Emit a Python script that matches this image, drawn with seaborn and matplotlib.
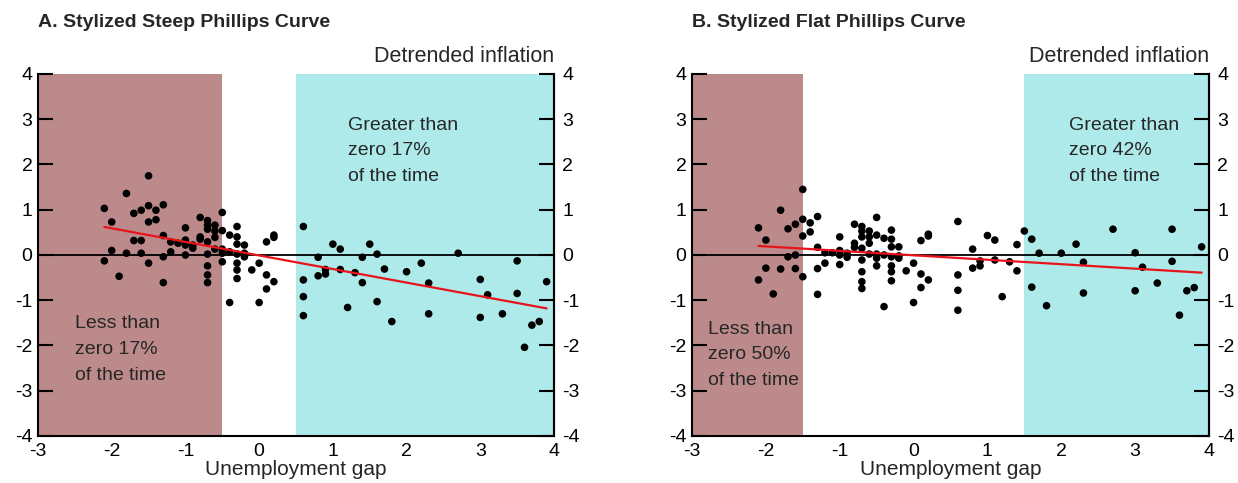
import numpy as np
import pandas as pd
import matplotlib
matplotlib.use("Agg")
import matplotlib.pyplot as plt
import seaborn as sns

# ---- data ----
unemp_gap = [
    -2.1, -2.1, -2.0, -2.0, -1.9, -1.8, -1.8, -1.7, -1.7, -1.6, -1.6, -1.6,
    -1.5, -1.5, -1.5, -1.5, -1.4, -1.4, -1.3, -1.3, -1.3, -1.3, -1.2, -1.2,
    -1.1, -1.0, -1.0, -1.0, -1.0, -0.9, -0.9, -0.8, -0.8, -0.8,
    -0.7, -0.7, -0.7, -0.7, -0.7, -0.7, -0.7, -0.7,
    -0.6, -0.6, -0.6, -0.6, -0.5, -0.5, -0.5, -0.5, -0.5,
    -0.4, -0.4, -0.4, -0.3, -0.3, -0.3, -0.3, -0.3, -0.3, -0.3,
    -0.2, -0.2, -0.2, -0.1, 0.0, 0.0, 0.1, 0.1, 0.1, 0.2, 0.2, 0.2,
    0.6, 0.6, 0.6, 0.6, 0.8, 0.8, 0.9, 0.9, 1.0, 1.1, 1.1, 1.2, 1.3,
    1.4, 1.4, 1.5, 1.6, 1.6, 1.7, 1.8, 2.0, 2.2, 2.3, 2.3, 2.7,
    3.0, 3.0, 3.1, 3.3, 3.5, 3.5, 3.6, 3.7, 3.8, 3.9,
]
steep_infl = [
    1.03, -0.13, 0.73, 0.10, -0.47, 1.36, 0.04, 0.92, 0.32, 0.99, 0.32, 0.04,
    1.75, 1.09, 0.73, -0.18, 0.99, 0.78, 1.11, 0.43, -0.04, -0.61, 0.29, 0.07,
    0.26, 0.60, 0.33, 0.22, 0.00, 0.22, 0.15, 0.83, 0.40, 0.35,
    0.76, 0.66, 0.57, 0.29, 0.02, -0.24, -0.44, -0.61,
    0.66, 0.53, 0.39, 0.13, 0.94, 0.54, 0.13, 0.04, -0.15,
    0.44, 0.07, -1.05, 0.63, 0.40, 0.24, 0.02, -0.18, -0.33, -0.52,
    0.22, 0.04, -0.04, -0.33, -0.18, -1.05, 0.29, -0.44, -0.75, 0.44, 0.39, -0.59,
    0.63, -0.55, -0.92, -1.34, -0.05, -0.46, -0.32, -0.42, 0.24, 0.13, -0.32, -1.16, -0.39,
    -0.05, -0.61, 0.24, 0.02, -1.03, -0.31, -1.47, -0.37, -0.18, -0.62, -1.30, 0.04,
    -0.54, -1.38, -0.88, -1.30, -0.13, -0.85, -2.04, -1.55, -1.47, -0.59,
]
flat_infl = [
    0.60, -0.55, 0.33, -0.29, -0.86, 0.99, -0.31, 0.58, -0.04, 0.68, 0.00, -0.30,
    1.45, 0.79, 0.42, -0.48, 0.71, 0.51, 0.85, 0.17, -0.30, -0.87, 0.05, -0.18,
    0.05, 0.40, 0.10, 0.00, -0.21, 0.04, -0.05, 0.68, 0.26, 0.17,
    0.63, 0.53, 0.40, 0.15, -0.11, -0.37, -0.59, -0.74,
    0.53, 0.40, 0.26, 0.02, 0.83, 0.44, 0.02, -0.07, -0.24,
    0.37, 0.00, -1.14, 0.55, 0.35, 0.18, -0.04, -0.24, -0.37, -0.57,
    0.18, -0.02, -0.07, -0.35, -0.18, -1.05, 0.32, -0.42, -0.72, 0.46, 0.42, -0.55,
    0.74, -0.44, -0.78, -1.22, 0.13, -0.29, -0.13, -0.24, 0.43, 0.33, -0.11, -0.92, -0.15,
    0.23, -0.35, 0.53, 0.35, -0.71, 0.04, -1.12, 0.04, 0.24, -0.16, -0.84, 0.57,
    0.05, -0.79, -0.27, -0.62, 0.57, -0.14, -1.33, -0.79, -0.72, 0.18,
]
# fitted line end points
fit_x = [-2.1, 3.9]
steep_fit = [0.62, -1.18]
flat_fit = [0.20, -0.39]

# shaded regions (x ranges)
steep_low = (-3.0, -0.5)
steep_high = (0.5, 4.0)
flat_low = (-3.0, -1.5)
flat_high = (1.5, 4.0)

titles = ["A. Stylized Steep Phillips Curve", "B. Stylized Flat Phillips Curve"]
high_text = ["Greater than\nzero 17%\nof the time", "Greater than\nzero 42%\nof the time"]
low_text = ["Less than\nzero 17%\nof the time", "Less than\nzero 50%\nof the time"]
xticks = [-3, -2, -1, 0, 1, 2, 3, 4]
yticks = [-4, -3, -2, -1, 0, 1, 2, 3, 4]

# ---- style ----
sns.set_theme(style="white")
plt.rcParams['font.family'] = ['Liberation Sans', 'DejaVu Sans']

BROWN = "#BC8A8A"
CYAN = "#AEEAEA"
RED = "#E8141C"
FS = 14

fig = plt.figure(figsize=(12.38, 4.83), dpi=100)
axes = [fig.add_axes([38/1238, 1-436/483, (554-38)/1238, (436-74)/483]),
        fig.add_axes([692/1238, 1-436/483, (1209-692)/1238, (436-74)/483])]

panels = [
    (steep_infl, steep_fit, steep_low, steep_high, (1.2, 3.06), (-2.5, -1.33)),
    (flat_infl, flat_fit, flat_low, flat_high, (2.1, 3.06), (-2.78, -1.45)),
]

for i, (ax, (infl, fit, low, high, hpos, lpos)) in enumerate(zip(axes, panels)):
    df = pd.DataFrame({"gap": unemp_gap, "infl": infl})
    ax.axvspan(*low, color=BROWN, lw=0, zorder=0)
    ax.axvspan(*high, color=CYAN, lw=0, zorder=0)
    ax.axhline(0, color="black", lw=1.3, zorder=1)
    sns.scatterplot(data=df, x="gap", y="infl", ax=ax, color="black", s=30,
                    edgecolor="none", zorder=3, legend=False)
    sns.lineplot(x=fit_x, y=fit, ax=ax, color=RED, lw=1.6, zorder=4)
    ax.set_xlim(-3, 4)
    ax.set_ylim(-4, 4)
    ax.set_xticks(xticks)
    ax.set_yticks(yticks)
    ax.set_xlabel("Unemployment gap", fontsize=15, labelpad=0)
    ax.set_ylabel("")
    ax.tick_params(axis="both", direction="in", length=11, width=1.5,
                   labelsize=FS, colors="black", pad=4)
    ax.tick_params(axis="x", pad=5)
    for side in ["left", "bottom", "right"]:
        ax.spines[side].set_visible(True)
        ax.spines[side].set_color("black")
        ax.spines[side].set_linewidth(1.5)
    ax.spines["top"].set_visible(False)
    ax.set_yticklabels([str(t) for t in yticks])
    ax.set_xticklabels([str(t) for t in xticks])

    ax2 = ax.twinx()
    ax2.set_ylim(-4, 4)
    ax2.set_yticks(yticks)
    ax2.set_yticklabels([str(t) for t in yticks])
    ax2.tick_params(axis="y", direction="in", length=11, width=1.5,
                    labelsize=FS, colors="black", pad=6)
    for side in ["left", "bottom", "top"]:
        ax2.spines[side].set_visible(False)
    ax2.spines["right"].set_visible(True)
    ax2.spines["right"].set_color("black")
    ax2.spines["right"].set_linewidth(1.5)
    ax2.grid(False)

    ax.text(0.0, 1.12, titles[i], transform=ax.transAxes, fontsize=14,
            fontweight="bold", ha="left", va="bottom")
    ax.text(1.0, 1.02, "Detrended inflation", transform=ax.transAxes,
            fontsize=15.5, ha="right", va="bottom")
    ax.text(hpos[0], hpos[1], high_text[i], fontsize=FS, ha="left", va="top",
            linespacing=1.68, zorder=5)
    ax.text(lpos[0], lpos[1], low_text[i], fontsize=FS, ha="left", va="top",
            linespacing=1.68, zorder=5)

fig.savefig("out.png", dpi=100)
